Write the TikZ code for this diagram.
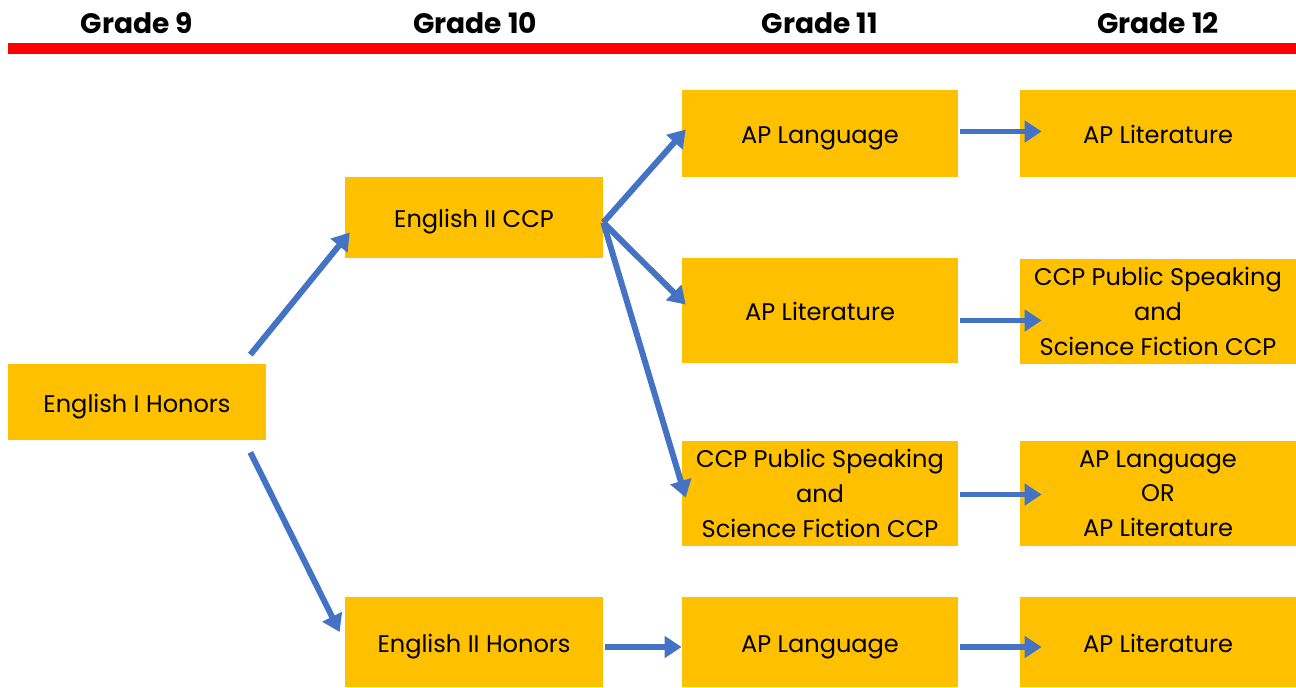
\documentclass[tikz,border=0pt]{standalone}
\usepackage{fontspec}
\setmainfont{Poppins}
\usetikzlibrary{arrows.meta}
\usetikzlibrary{positioning}
\usetikzlibrary{calc}

\definecolor{courseyellow}{HTML}{FFC000}
\definecolor{arrowblue}{HTML}{4472C4}

\begin{document}
\begin{tikzpicture}[x=0.02cm,y=-0.02cm,
  course/.style={rectangle,fill=courseyellow,draw=none,align=center,
    inner sep=0pt,font=\fontsize{13.7}{19.8}\selectfont},
  oneline/.style={text height=12pt,text depth=0.6pt},
  lower/.style={course,oneline,minimum width=5.16cm},
  upper/.style={course,minimum width=5.52cm},
  grade/.style={font=\fontsize{16}{18}\selectfont\bfseries},
  flow/.style={color=arrowblue,line width=3.4pt,
    -{Triangle[length=0.34cm,width=0.42cm]}}]
  \useasboundingbox (0,0) rectangle (1296,687);

  % header
  \node[grade] (g9)  at (137,23)  {Grade 9};
  \node[grade] (g10) at (475,23)  {Grade 10};
  \node[grade] (g11) at (820,23)  {Grade 11};
  \node[grade] (g12) at (1158,23) {Grade 12};
  \fill[red] (8,43) rectangle (1296,54);

  % grade 9 and 10
  \node[lower,minimum height=1.52cm] (eng1h) at (137,402) {English I Honors};
  \node[lower,minimum height=1.62cm] (eng2c) at (474,217.5) {English II CCP};
  \node[lower,minimum height=1.8cm]  (eng2h) at (474,642) {English II Honors};

  % grade 11
  \node[upper,oneline,minimum height=1.74cm] (lang11a) at (820,133.5) {AP Language};
  \node[upper,oneline,minimum height=2.1cm]  (lit11)   at (820,310.5) {AP Literature};
  \node[upper,minimum height=2.1cm]  (ccp11)   at (820,493.5)
    {CCP Public Speaking\\and\\Science Fiction CCP};
  \node[upper,oneline,minimum height=1.8cm]  (lang11b) at (820,642) {AP Language};

  % grade 12
  \node[upper,oneline,minimum height=1.74cm] (lit12a)  at (1158,133.5) {AP Literature};
  \node[upper,minimum height=2.1cm]  (ccp12)   at (1158,311.5)
    {CCP Public Speaking\\and\\Science Fiction CCP};
  \node[upper,minimum height=2.1cm]  (either12) at (1158,493.5)
    {AP Language\\OR\\AP Literature};
  \node[upper,oneline,minimum height=1.8cm]  (lit12b)  at (1158,642) {AP Literature};

  \path
  ($(eng1h.north east)+(-16,-9)$) edge[flow] ($(eng2c.west)+(5,15)$)
  ($(eng1h.south east)+(-16,12)$) edge[flow] ($(eng2h.west)+(-5,-10)$)
  ($(eng2c.east)+(0,5)$) edge[flow] ($(lang11a.west)+(4,-4)$)
  ($(eng2c.east)+(0,5)$) edge[flow] ($(lit11.west)+(4,-6)$)
  ($(eng2c.east)+(0,5)$) edge[flow] ($(ccp11.west)+(4,4)$)
  ($(eng2h.east)+(2,5)$) edge[flow] ($(lang11b.west)+(0,5)$)
  ($(lang11a.east)+(2,-2)$) edge[flow] ($(lit12a.west)+(22,-2)$)
  ($(lit11.east)+(2,10)$) edge[flow] ($(ccp12.west)+(22,9)$)
  ($(ccp11.east)+(2,1)$) edge[flow] ($(either12.west)+(22,1)$)
  ($(lang11b.east)+(2,5)$) edge[flow] ($(lit12b.west)+(22,5)$);
\end{tikzpicture}
\end{document}
